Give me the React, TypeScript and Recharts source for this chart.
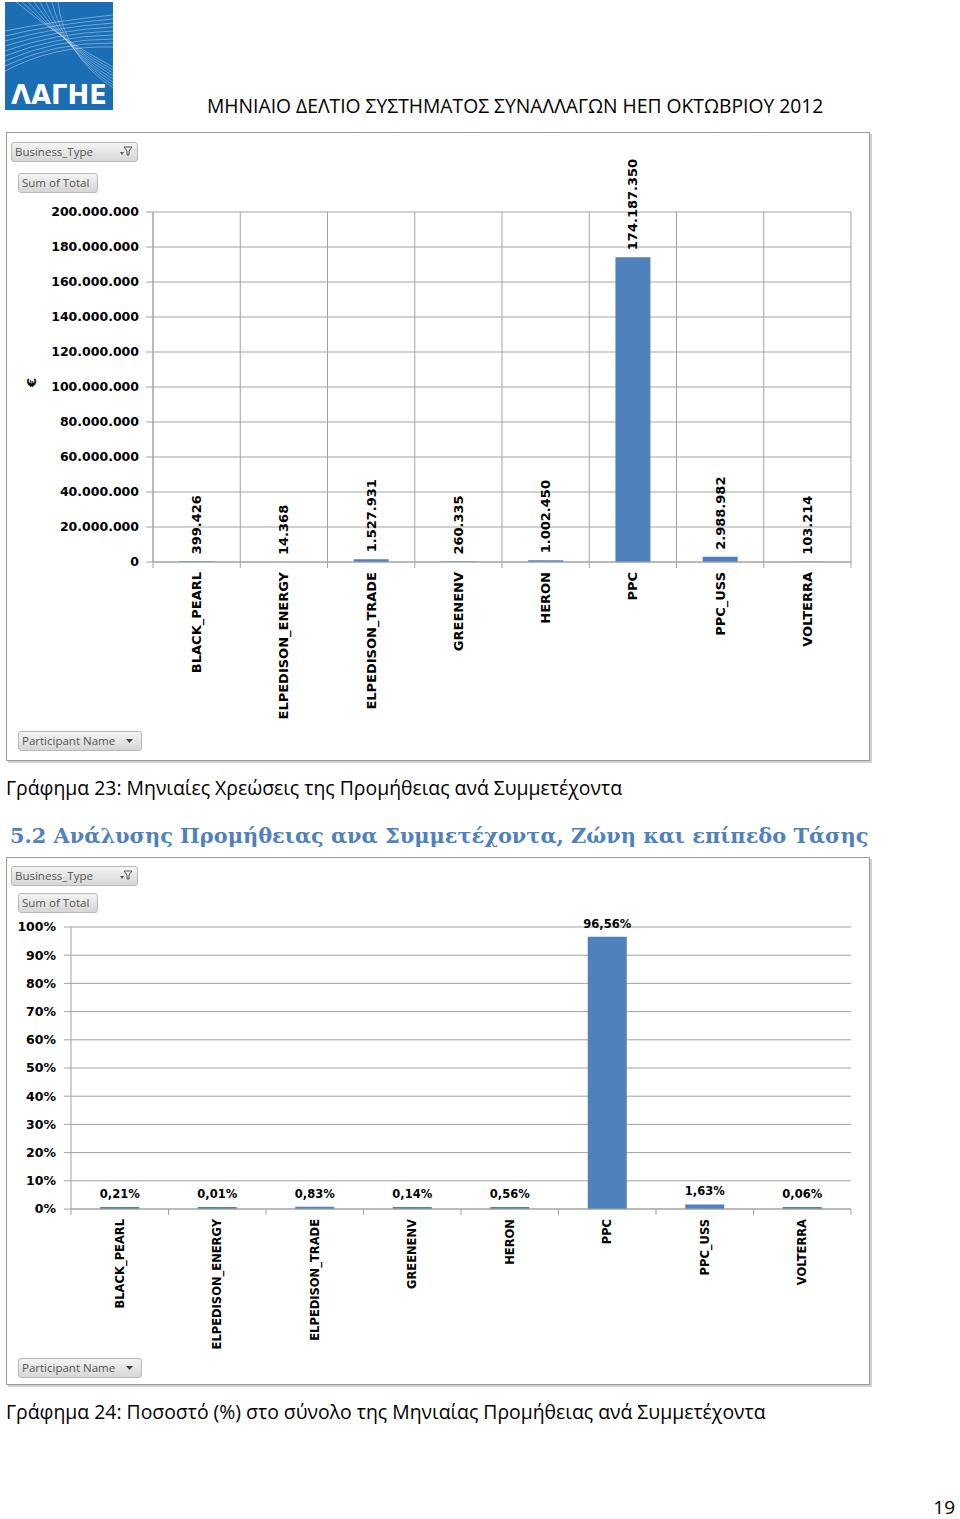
import React from 'react'
import {
  BarChart, Bar, XAxis, YAxis, CartesianGrid, LabelList,
} from 'recharts'

const participants = [
  'BLACK_PEARL', 'ELPEDISON_ENERGY', 'ELPEDISON_TRADE', 'GREENENV',
  'HERON', 'PPC', 'PPC_USS', 'VOLTERRA',
]
// Μηνιαίες χρεώσεις προμήθειας (€)
const totals = [399426, 14368, 1527931, 260335, 1002450, 174187350, 2988982, 103214]
// Ποσοστό (%) στο σύνολο
const shares = [0.21, 0.01, 0.83, 0.14, 0.56, 96.56, 1.63, 0.06]

const euroTicks = [0, 20000000, 40000000, 60000000, 80000000, 100000000, 120000000, 140000000, 160000000, 180000000, 200000000]
const pctTicks = [0, 10, 20, 30, 40, 50, 60, 70, 80, 90, 100]

const BAR = '#4f81bd'
const GRID = '#a3a3a3'
const CHART_FONT = '"DejaVu Sans", Verdana, sans-serif'
const PAGE_FONT = '"Open Sans", "Noto Sans", sans-serif'

const dots = (v: number) => String(Math.round(v)).replace(/\B(?=(\d{3})+(?!\d))/g, '.')
const pct = (v: number) => v.toFixed(2).replace('.', ',') + '%'

const euroData = participants.map((name, i) => ({ name, total: totals[i] }))
const pctData = participants.map((name, i) => ({ name, share: shares[i] }))

// category ticks: rotated label + tick marks on the band edges
// eslint-disable-next-line @typescript-eslint/no-explicit-any
function CatTick({ x, y, payload, index, fontSize, count }: any) {
  const half = payload?.offset ?? 0
  return (
    <g>
      <line x1={x - half} x2={x - half} y1={y} y2={y + 6} stroke={GRID} />
      {index === count - 1 && <line x1={x + half} x2={x + half} y1={y} y2={y + 6} stroke={GRID} />}
      <text
        transform={`translate(${x},${y + 10}) rotate(-90)`}
        textAnchor="end"
        dominantBaseline="central"
        fontSize={fontSize}
        fontWeight="bold"
        fontFamily={CHART_FONT}
        fill="#000"
      >
        {payload.value}
      </text>
    </g>
  )
}

// eslint-disable-next-line @typescript-eslint/no-explicit-any
function UpLabel({ x, y, width, value }: any) {
  return (
    <text
      transform={`translate(${x + width / 2},${y - 7}) rotate(-90)`}
      textAnchor="start"
      dominantBaseline="central"
      fontSize={13}
      fontWeight="bold"
      fontFamily={CHART_FONT}
      fill="#000"
    >
      {dots(value)}
    </text>
  )
}

// eslint-disable-next-line @typescript-eslint/no-explicit-any
const bandLines = (n: number) => ({ offset }: any) =>
  Array.from({ length: n + 1 }, (_, i) => offset.left + (i * offset.width) / n)

function PivotButton({ text, left, top, width, icon }: { text: string; left: number; top: number; width: number; icon?: 'filter' | 'drop' }) {
  return (
    <div style={{
      position: 'absolute', left, top, width, height: 20, boxSizing: 'border-box',
      border: '1px solid #b9b9b9', borderRadius: 3,
      background: 'linear-gradient(#f4f4f4, #d6d6d6)',
      fontFamily: PAGE_FONT, fontSize: 11.5, color: '#555', lineHeight: '18px', paddingLeft: 3,
    }}>
      {text}
      {icon === 'filter' && (
        <svg width={14} height={12} style={{ position: 'absolute', right: 4, top: 2 }}>
          <path d="M5 2 L13 2 L10 6 L10 10 L8 10 L8 6 Z" fill="none" stroke="#555" strokeWidth={1} />
          <path d="M1 7 L5 7 L3 10 Z" fill="#555" />
        </svg>
      )}
      {icon === 'drop' && (
        <svg width={10} height={8} style={{ position: 'absolute', right: 6, top: 6 }}>
          <path d="M1 1 L8 1 L4.5 5 Z" fill="#444" />
        </svg>
      )}
    </div>
  )
}

function Logo() {
  return (
    <svg width={110} height={110} style={{ position: 'absolute', left: 4, top: 1 }}>
      <rect x={1} y={1} width={108} height={108} fill="#1b6db4" />
      {Array.from({ length: 9 }, (_, i) => (
        <path key={'a' + i} d={`M1 ${30 + i * 5} Q 50 ${20 + i * 3} 109 ${14 + i * 4}`} stroke="#9cc8ec" strokeWidth={0.8} fill="none" opacity={0.8} />
      ))}
      {Array.from({ length: 8 }, (_, i) => (
        <path key={'b' + i} d={`M${12 + i * 6} 1 Q 60 ${40 + i * 2} 109 ${66 + i * 3}`} stroke="#b7d8f3" strokeWidth={0.7} fill="none" opacity={0.7} />
      ))}
      <text x={7} y={103} fontSize={26} fontWeight="bold" fontFamily='"DejaVu Sans", sans-serif' fill="#fff" textLength={96} lengthAdjust="spacingAndGlyphs">ΛΑΓΗΕ</text>
    </svg>
  )
}

export default function App() {
  return (
    <div style={{ position: 'absolute', left: 0, top: 0, width: 960, height: 1519, background: '#fff', overflow: 'hidden' }}>
      <Logo />
      <div style={{ position: 'absolute', left: 207, top: 92, fontFamily: PAGE_FONT, fontSize: 19.3, color: '#000', whiteSpace: 'nowrap' }}>
        ΜΗΝΙΑΙΟ ΔΕΛΤΙΟ ΣΥΣΤΗΜΑΤΟΣ ΣΥΝΑΛΛΑΓΩΝ ΗΕΠ ΟΚΤΩΒΡΙΟΥ 2012
      </div>

      {/* Γράφημα 23 */}
      <div style={{ position: 'absolute', left: 6, top: 132, width: 864, height: 629, border: '1px solid #9a9a9a', boxSizing: 'border-box', boxShadow: '2px 2px 0 #d0d0d0' }}>
        <BarChart width={862} height={627} data={euroData} margin={{ top: 79, right: 18, left: 0, bottom: 0 }} barCategoryGap="30%">
          <CartesianGrid stroke={GRID} verticalCoordinatesGenerator={bandLines(participants.length)} />
          <XAxis
            dataKey="name"
            height={198}
            interval={0}
            axisLine={{ stroke: GRID }}
            tickLine={false}
            tickSize={0}
            tickMargin={0}
            tick={<CatTick fontSize={13} count={participants.length} />}
          />
          <YAxis
            width={146}
            domain={[0, 200000000]}
            ticks={euroTicks}
            interval={0}
            tickFormatter={dots}
            tickSize={7}
            tickMargin={7}
            axisLine={{ stroke: GRID }}
            tickLine={{ stroke: GRID }}
            tick={{ fill: '#000', fontSize: 12.5, fontWeight: 'bold', fontFamily: CHART_FONT }}
            label={{ value: '€', angle: -90, position: 'insideLeft', offset: 24, fill: '#000', fontSize: 13, fontWeight: 'bold', fontFamily: CHART_FONT }}
          />
          <Bar dataKey="total" fill={BAR} isAnimationActive={false}>
            <LabelList dataKey="total" content={<UpLabel />} />
          </Bar>
        </BarChart>
        <PivotButton text="Business_Type" left={4} top={9} width={127} icon="filter" />
        <PivotButton text="Sum of Total" left={11} top={40} width={80} />
        <PivotButton text="Participant Name" left={11} top={598} width={124} icon="drop" />
      </div>

      <div style={{ position: 'absolute', left: 6, top: 774, fontFamily: PAGE_FONT, fontSize: 19.4, color: '#000', whiteSpace: 'nowrap' }}>
        Γράφημα 23: Μηνιαίες Χρεώσεις της Προμήθειας ανά Συμμετέχοντα
      </div>

      <div style={{ position: 'absolute', left: 10, top: 823, fontFamily: '"DejaVu Serif", "Liberation Serif", serif', fontWeight: 'bold', fontSize: 20.9, color: '#4f81bd', whiteSpace: 'nowrap' }}>
        5.2 Ανάλυσης Προμήθειας ανα Συμμετέχοντα, Ζώνη και επίπεδο Τάσης
      </div>

      {/* Γράφημα 24 */}
      <div style={{ position: 'absolute', left: 6, top: 857, width: 864, height: 528, border: '1px solid #9a9a9a', boxSizing: 'border-box', boxShadow: '2px 2px 0 #d0d0d0' }}>
        <BarChart width={862} height={526} data={pctData} margin={{ top: 69, right: 18, left: 0, bottom: 0 }} barCategoryGap="30%">
          <CartesianGrid stroke={GRID} vertical={false} />
          <XAxis
            dataKey="name"
            height={175}
            interval={0}
            axisLine={{ stroke: GRID }}
            tickLine={false}
            tickSize={0}
            tickMargin={0}
            tick={<CatTick fontSize={11.5} count={participants.length} />}
          />
          <YAxis
            width={64}
            domain={[0, 100]}
            ticks={pctTicks}
            interval={0}
            tickFormatter={(v) => `${v}%`}
            tickSize={7}
            tickMargin={8}
            axisLine={{ stroke: GRID }}
            tickLine={{ stroke: GRID }}
            tick={{ fill: '#000', fontSize: 12.5, fontWeight: 'bold', fontFamily: CHART_FONT }}
          />
          <Bar dataKey="share" fill={BAR} minPointSize={2} isAnimationActive={false}>
            <LabelList dataKey="share" position="top" offset={9} formatter={(v: number) => pct(v)}
              style={{ fill: '#000', fontSize: 11.5, fontWeight: 'bold', fontFamily: CHART_FONT }} />
          </Bar>
        </BarChart>
        <PivotButton text="Business_Type" left={4} top={8} width={127} icon="filter" />
        <PivotButton text="Sum of Total" left={11} top={35} width={80} />
        <PivotButton text="Participant Name" left={11} top={500} width={124} icon="drop" />
      </div>

      <div style={{ position: 'absolute', left: 6, top: 1398, fontFamily: PAGE_FONT, fontSize: 19.4, color: '#000', whiteSpace: 'nowrap' }}>
        Γράφημα 24: Ποσοστό (%) στο σύνολο της Μηνιαίας Προμήθειας ανά Συμμετέχοντα
      </div>

      <div style={{ position: 'absolute', right: 5, top: 1494, fontFamily: PAGE_FONT, fontSize: 19, color: '#000' }}>
        19
      </div>
    </div>
  )
}
